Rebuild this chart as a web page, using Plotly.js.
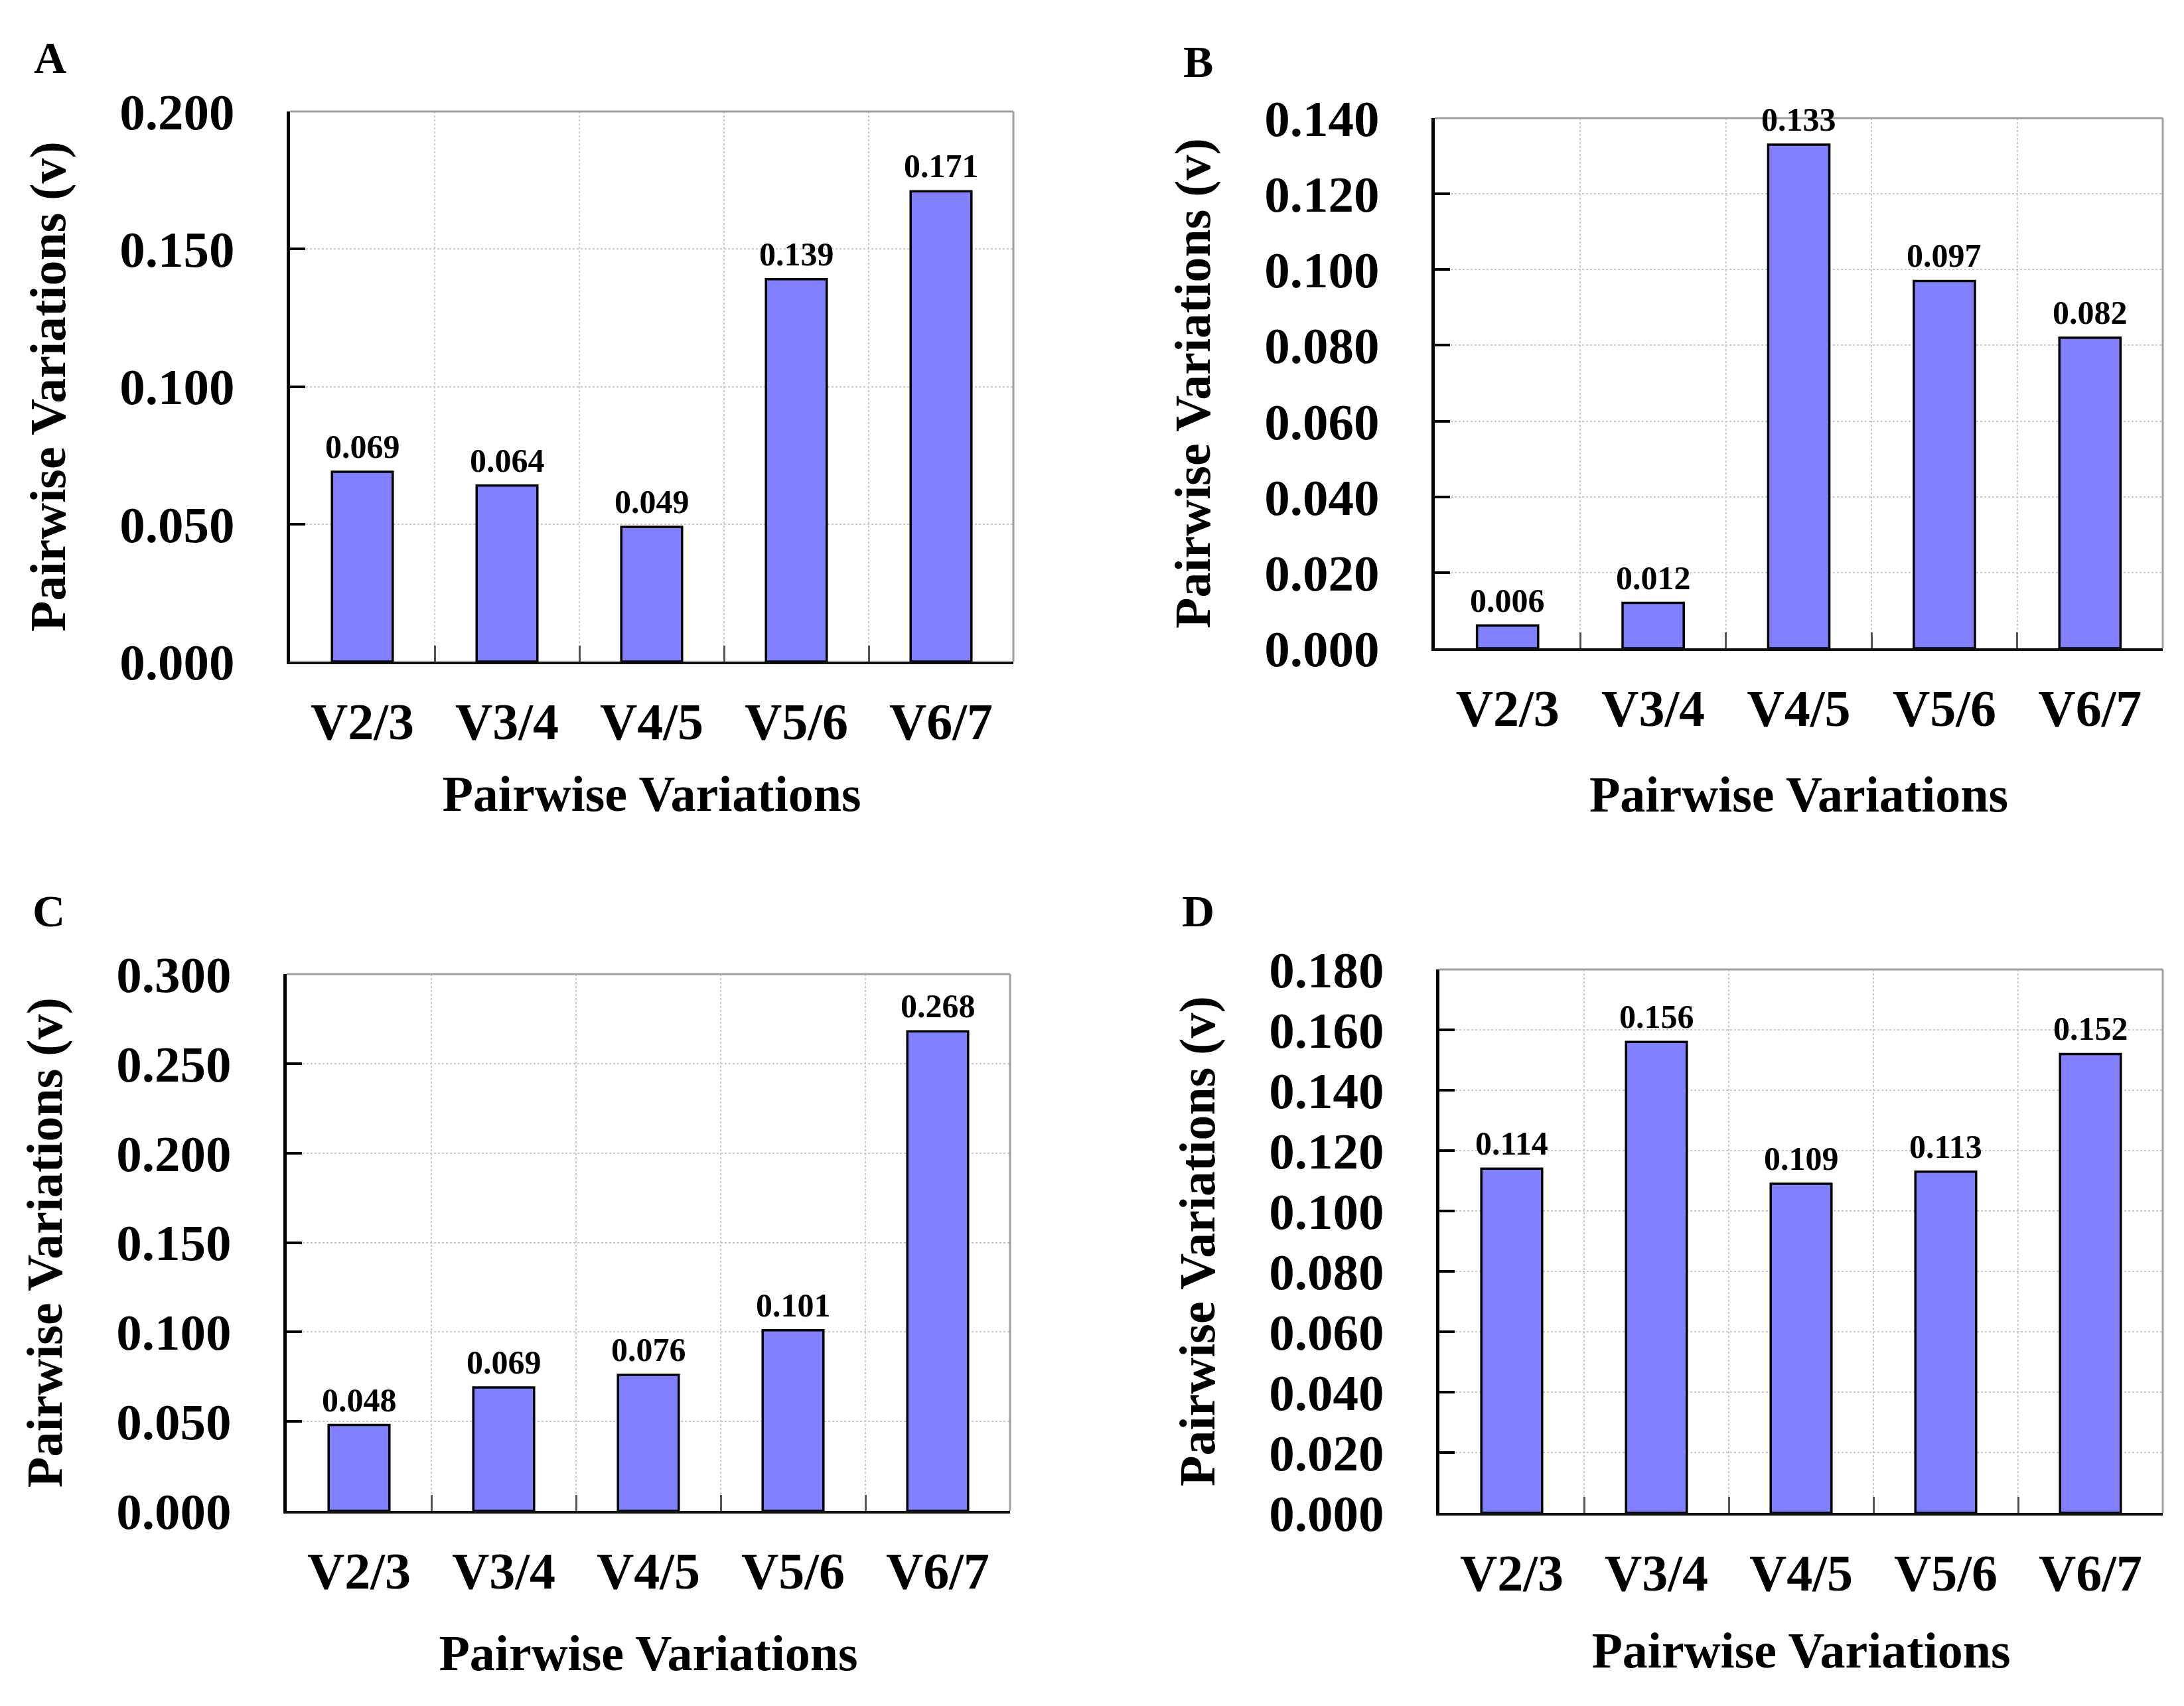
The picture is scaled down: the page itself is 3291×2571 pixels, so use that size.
<!DOCTYPE html>
<html>
<head>
<meta charset="utf-8">
<script src="https://cdn.plot.ly/plotly-3.0.1.min.js"></script>
<style>html,body{margin:0;padding:0;background:#fff;}#chart{width:3291px;height:2571px;}</style>
</head>
<body>
<div id="chart"></div>
<script>
const categories = ['V2/3', 'V3/4', 'V4/5', 'V5/6', 'V6/7'];
const valuesA = [0.069, 0.064, 0.049, 0.139, 0.171];
const valuesB = [0.006, 0.012, 0.133, 0.097, 0.082];
const valuesC = [0.048, 0.069, 0.076, 0.101, 0.268];
const valuesD = [0.114, 0.156, 0.109, 0.113, 0.152];
const panelLabels = ['A', 'B', 'C', 'D'];
const yRanges = [[0, 0.2], [0, 0.14], [0, 0.3], [0, 0.18]];
const yDticks = [0.05, 0.02, 0.05, 0.02];
const xTitle = 'Pairwise Variations';
const yTitle = 'Pairwise Variations (v)';

const W = 3291, H = 2571;
const FONT = 'Liberation Serif, Times New Roman, serif';
const seriesList = [valuesA, valuesB, valuesC, valuesD];

// panel plot-area boxes in pixels [left, right, top, bottom]
const boxes = [
  [437, 1527, 168, 997],
  [2162, 3259, 178, 977],
  [432, 1522, 1468, 2277],
  [2169, 3259, 1461, 2280]
];
const letterPos = [[75, 87], [1805, 93], [73, 1373], [1805, 1373]];
const xTitleStandoff = [40, 61, 55, 48];

const data = [];
const layout = {
  width: W, height: H,
  margin: {l: 0, r: 0, t: 0, b: 0},
  paper_bgcolor: '#ffffff',
  plot_bgcolor: '#ffffff',
  showlegend: false,
  font: {family: FONT, color: '#000', weight: 'bold'},
  annotations: [],
  shapes: []
};

seriesList.forEach((vals, i) => {
  const n = i === 0 ? '' : String(i + 1);
  const xa = 'x' + n, ya = 'y' + n;
  const b = boxes[i];
  data.push({
    type: 'bar',
    x: categories,
    y: vals,
    xaxis: xa, yaxis: ya,
    width: 0.42,
    marker: {color: '#8080ff', line: {color: '#000000', width: 3.5}},
    hoverinfo: 'x+y'
  });
  layout['xaxis' + n] = {
    domain: [b[0] / W, b[1] / W],
    anchor: ya,
    type: 'category',
    range: [-0.5, 4.5],
    tickson: 'boundaries',
    ticks: 'inside', ticklen: 24, tickwidth: 3, tickcolor: '#555555',
    showline: true, linecolor: '#111111', linewidth: 4,
    showgrid: true, gridcolor: '#c8c8c8', gridwidth: 2, griddash: 'dot',
    zeroline: false,
    ticklabelstandoff: 19,
    tickfont: {family: FONT, size: 78, color: '#000', weight: 'bold'},
    title: {text: xTitle, standoff: xTitleStandoff[i], font: {family: FONT, size: 76, color: '#000', weight: 'bold'}},
    fixedrange: true
  };
  layout['yaxis' + n] = {
    domain: [1 - b[3] / H, 1 - b[2] / H],
    anchor: xa,
    range: yRanges[i],
    dtick: yDticks[i], tick0: 0,
    tickformat: '.3f',
    ticks: 'inside', ticklen: 23, tickwidth: 4, tickcolor: '#000000',
    showline: true, linecolor: '#000000', linewidth: 5,
    showgrid: true, gridcolor: '#c8c8c8', gridwidth: 2, griddash: 'dot',
    zeroline: false,
    ticklabelstandoff: 63,
    tickfont: {family: FONT, size: 77, color: '#000', weight: 'bold'},
    title: {text: yTitle, standoff: 58, font: {family: FONT, size: 76, color: '#000', weight: 'bold'}},
    fixedrange: true
  };
  // gray top and right frame
  layout.shapes.push({type: 'line', xref: xa + ' domain', yref: ya + ' domain', x0: 0, x1: 1, y0: 1, y1: 1, line: {color: '#a0a0a0', width: 3}});
  layout.shapes.push({type: 'line', xref: xa + ' domain', yref: ya + ' domain', x0: 1, x1: 1, y0: 0, y1: 1, line: {color: '#a0a0a0', width: 3}});
  // value labels
  vals.forEach((v, j) => {
    layout.annotations.push({
      xref: xa, yref: ya, x: categories[j], y: v,
      text: v.toFixed(3), showarrow: false,
      xanchor: 'center', yanchor: 'bottom', yshift: 8,
      font: {family: FONT, size: 50, color: '#000', weight: 'bold'}
    });
  });
  // panel letter
  layout.annotations.push({
    xref: 'paper', yref: 'paper',
    x: letterPos[i][0] / W, y: 1 - letterPos[i][1] / H,
    text: panelLabels[i], showarrow: false,
    xanchor: 'center', yanchor: 'middle',
    font: {family: FONT, size: 68, color: '#000', weight: 'bold'}
  });
});

Plotly.newPlot('chart', data, layout, {displayModeBar: false, staticPlot: true});
</script>
</body>
</html>
